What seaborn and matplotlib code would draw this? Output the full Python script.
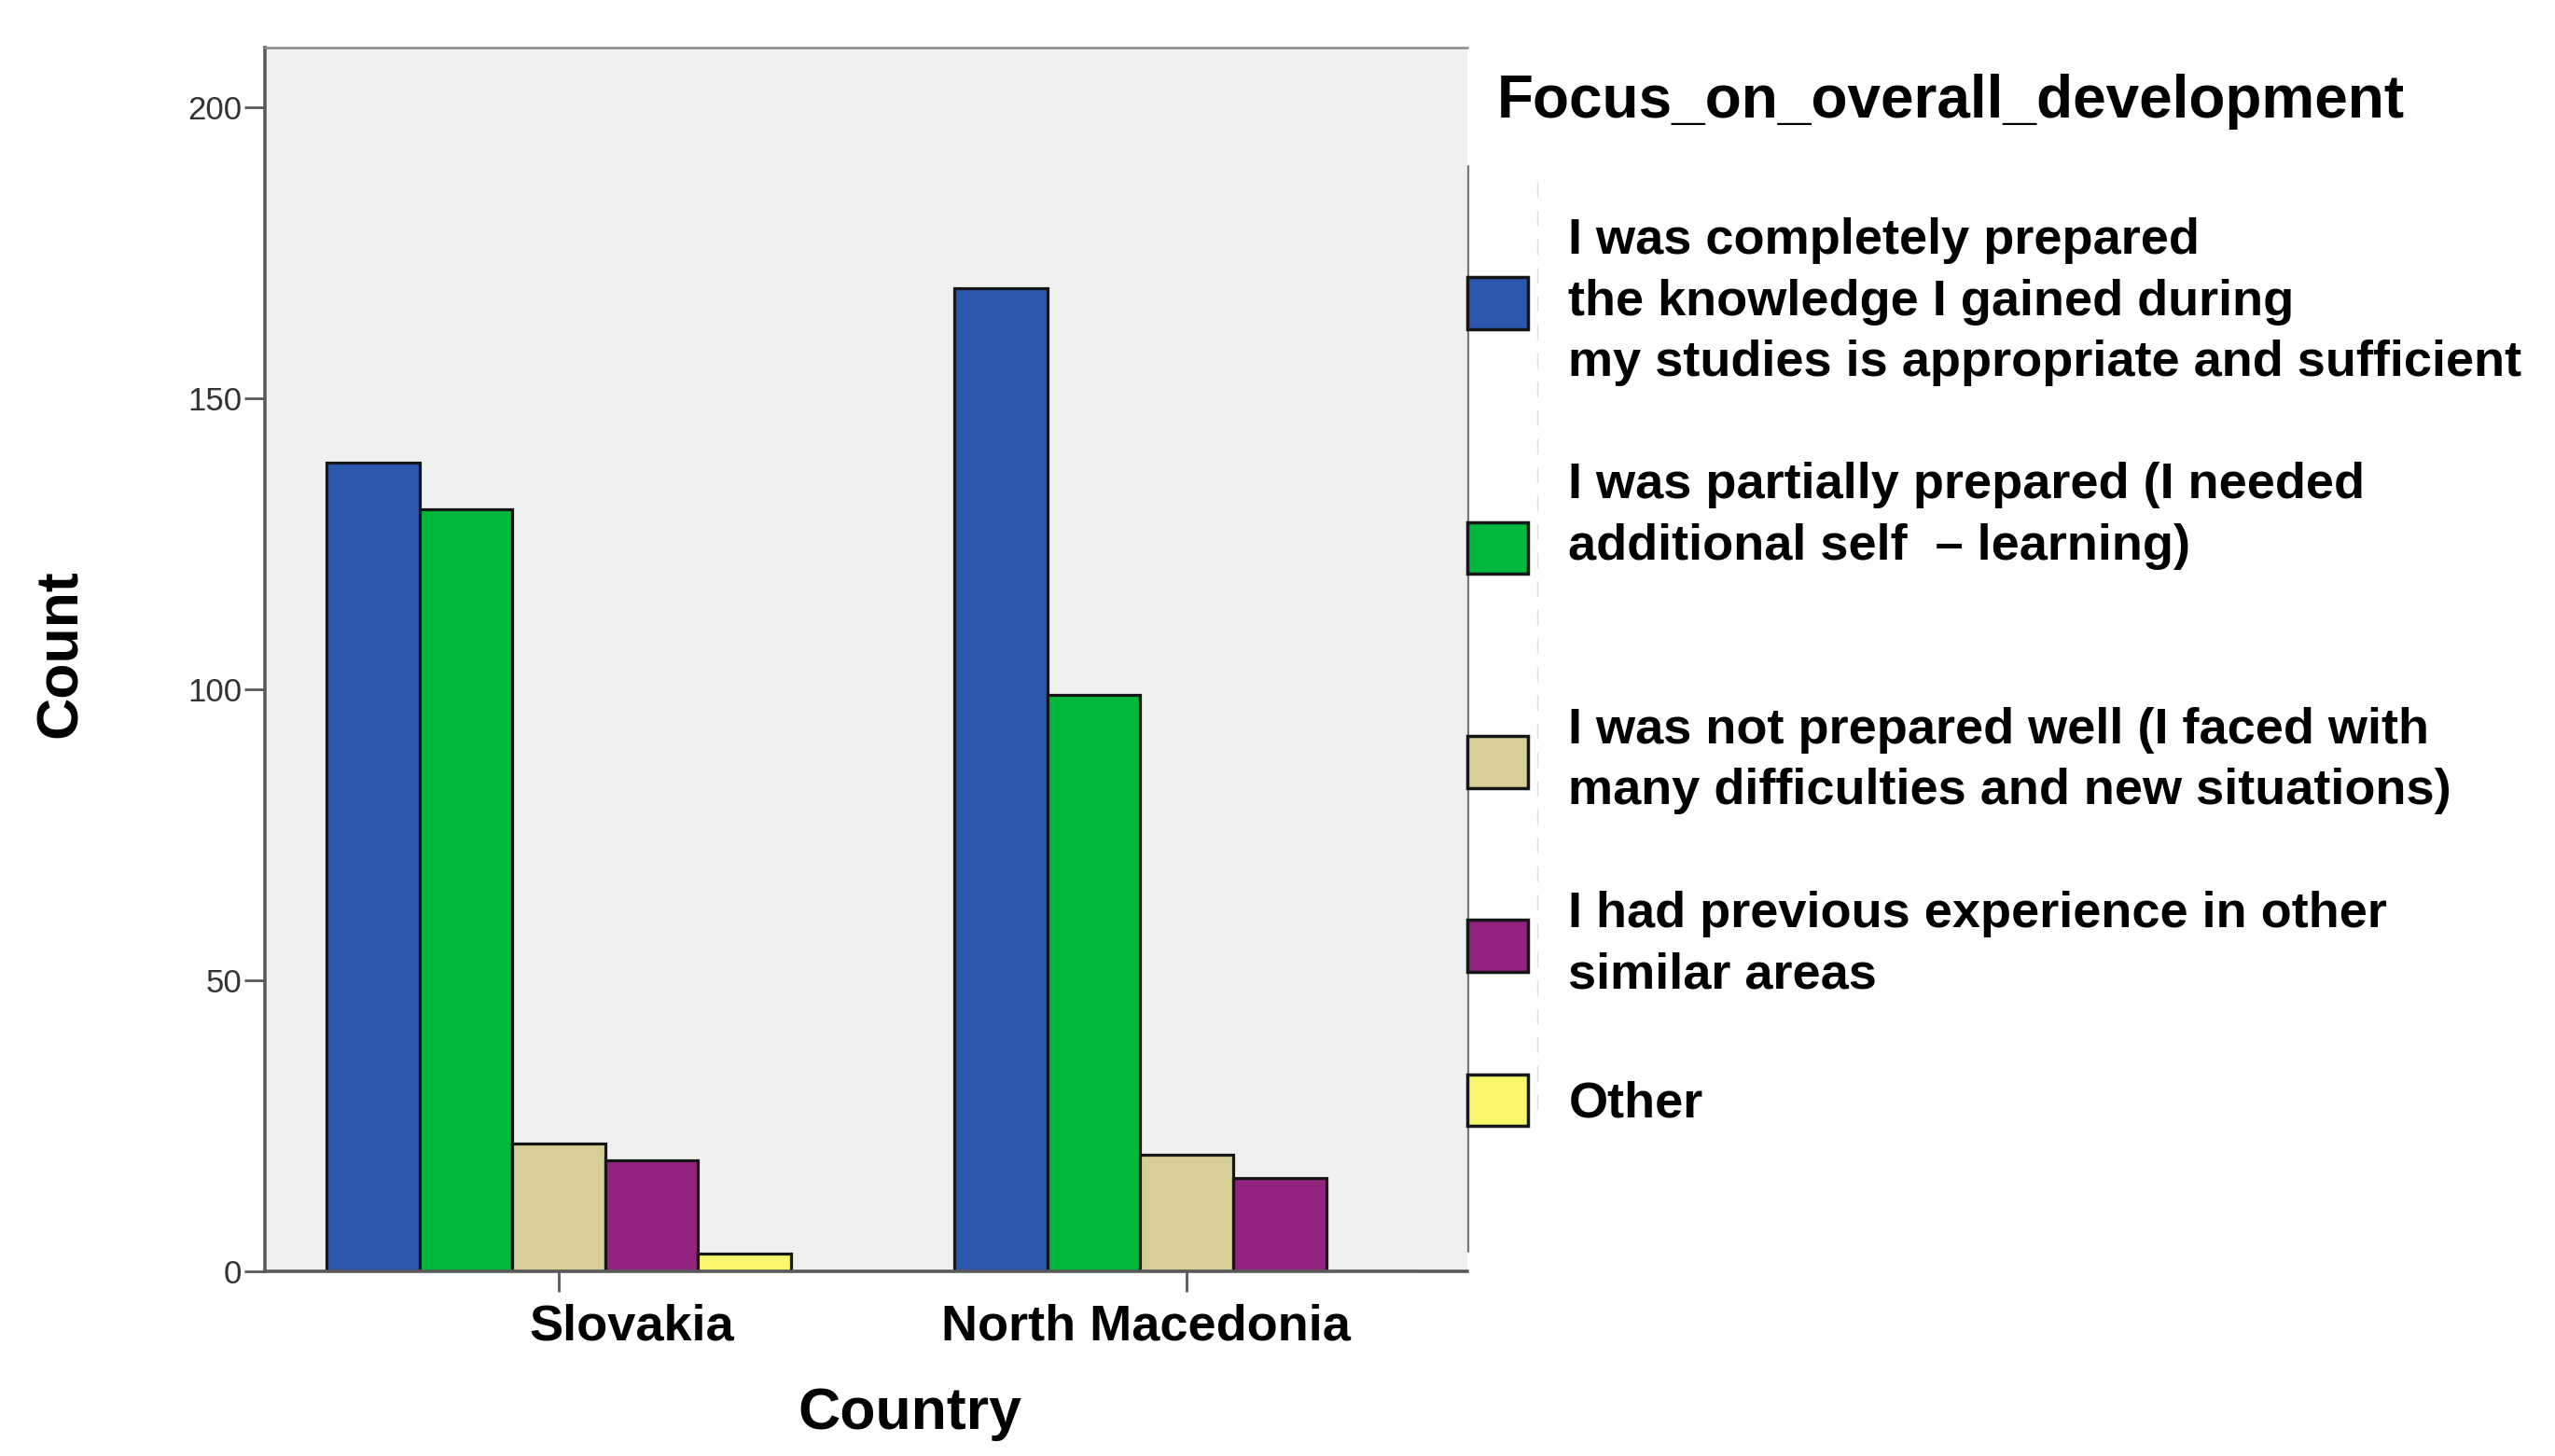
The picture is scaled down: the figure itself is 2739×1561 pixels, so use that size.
import numpy as np
import pandas as pd
import matplotlib
matplotlib.use("Agg")
import matplotlib.pyplot as plt
import matplotlib.transforms as mtransforms
from matplotlib.lines import Line2D
from matplotlib.patches import Patch
import seaborn as sns

# ---- data ----
countries = ["Slovakia", "North Macedonia"]
responses = [
    "I was completely prepared\nthe knowledge I gained during\nmy studies is appropriate and sufficient",
    "I was partially prepared (I needed\nadditional self  \u2013 learning)",
    "I was not prepared well (I faced with\nmany difficulties and new situations)",
    "I had previous experience in other\nsimilar areas",
    "Other",
]
slovakia_counts = [139, 131, 22, 19, 3]
north_macedonia_counts = [169, 99, 20, 16, 0]
colors = ["#2D57AF", "#00B83C", "#D6CF98", "#92237E", "#F8F66A"]
y_ticks = [0, 50, 100, 150, 200]
legend_title = "Focus_on_overall_development"
x_label = "Country"
y_label = "Count"

# ---- style ----
sns.set_theme(style="white")
plt.rcParams["font.family"] = ["Liberation Sans", "DejaVu Sans"]
plt.rcParams["text.color"] = "black"
plt.rcParams["axes.labelcolor"] = "black"

W, H = 2739, 1561
fig = plt.figure(figsize=(W / 100, H / 100), dpi=100)
ax = fig.add_axes([284 / W, 1 - 1363 / H, (1573 - 284) / W, (1363 - 51) / H])
ax.set_facecolor("#F0F0F0")

df = pd.DataFrame({
    "Country": np.repeat(countries, len(responses)),
    "Response": responses * len(countries),
    "Count": slovakia_counts + north_macedonia_counts,
})

sns.barplot(data=df, x="Country", y="Count", hue="Response",
            order=countries, hue_order=responses, palette=colors,
            saturation=1, width=0.74, edgecolor="#161616", linewidth=2.3,
            errorbar=None, ax=ax)

ax.set_xlim(-0.468, 1.447)
ax.set_ylim(0, 210.3)
ax.set_yticks(y_ticks)

for s in ["left", "bottom"]:
    ax.spines[s].set_color("#5a5a5a")
    ax.spines[s].set_linewidth(2.6)
ax.spines["top"].set_color("#8a8a8a")
ax.spines["top"].set_linewidth(1.8)
ax.spines["right"].set_visible(False)

ax.tick_params(axis="y", length=16, width=2, color="#5a5a5a", labelsize=25,
               labelcolor="#333333", pad=2, direction="out", left=True)
ax.tick_params(axis="x", length=16, width=2, color="#5a5a5a", labelsize=39,
               labelcolor="black", pad=9, direction="out", bottom=True)

ax.set_xticks(range(len(countries)), countries)
label_dx = [78, -44]
for lab, dx in zip(ax.get_xticklabels(), label_dx):
    lab.set_fontweight("bold")
    lab.set_transform(lab.get_transform() +
                      mtransforms.ScaledTranslation(dx / 100, 0, fig.dpi_scale_trans))

ax.set_xlabel(x_label, fontsize=45, fontweight="bold", color="black")
ax.set_ylabel(y_label, fontsize=45, fontweight="bold", color="black")
ax.xaxis.set_label_coords(0.536, -0.094)
ax.yaxis.set_label_coords(-0.147, 0.505)

# ---- legend ----
leg = ax.get_legend()
if leg is not None:
    handles = list(leg.legend_handles)
    leg.remove()
else:
    handles = [Patch(facecolor=c) for c in colors]
for h, c in zip(handles, colors):
    h.set_facecolor(c)
    h.set_edgecolor("#161616")
    h.set_linewidth(2.5)

extra_lines = [0, 1, 0, 0, 0]
labels = [r + "\n" * n for r, n in zip(responses, extra_lines)]
lg = fig.legend(handles, labels, loc="upper left",
                bbox_to_anchor=(1573 / W, 1 - 233 / H), bbox_transform=fig.transFigure,
                frameon=False, prop={"weight": "bold", "size": 39},
                handlelength=1.2, handleheight=1.2, handletextpad=0.8,
                labelspacing=1.5, borderpad=0, borderaxespad=0)
for t in lg.get_texts():
    t.set_linespacing(1.40)
    t.set_color("black")

fig.text(1605 / W, 1 - 126 / H, legend_title, fontsize=46, fontweight="bold",
         ha="left", va="baseline", color="black")

fig.add_artist(Line2D([1574 / W, 1574 / W], [1 - 178 / H, 1 - 1342 / H],
                      transform=fig.transFigure, color="#7a7a7a", lw=1.6, zorder=1))
fig.add_artist(Line2D([1648 / W, 1648 / W], [1 - 195 / H, 1 - 1200 / H],
                      transform=fig.transFigure, color="#dedede", lw=1.0,
                      linestyle=(0, (12, 10)), zorder=1))

fig.savefig("out.png", dpi=100, facecolor="white")
